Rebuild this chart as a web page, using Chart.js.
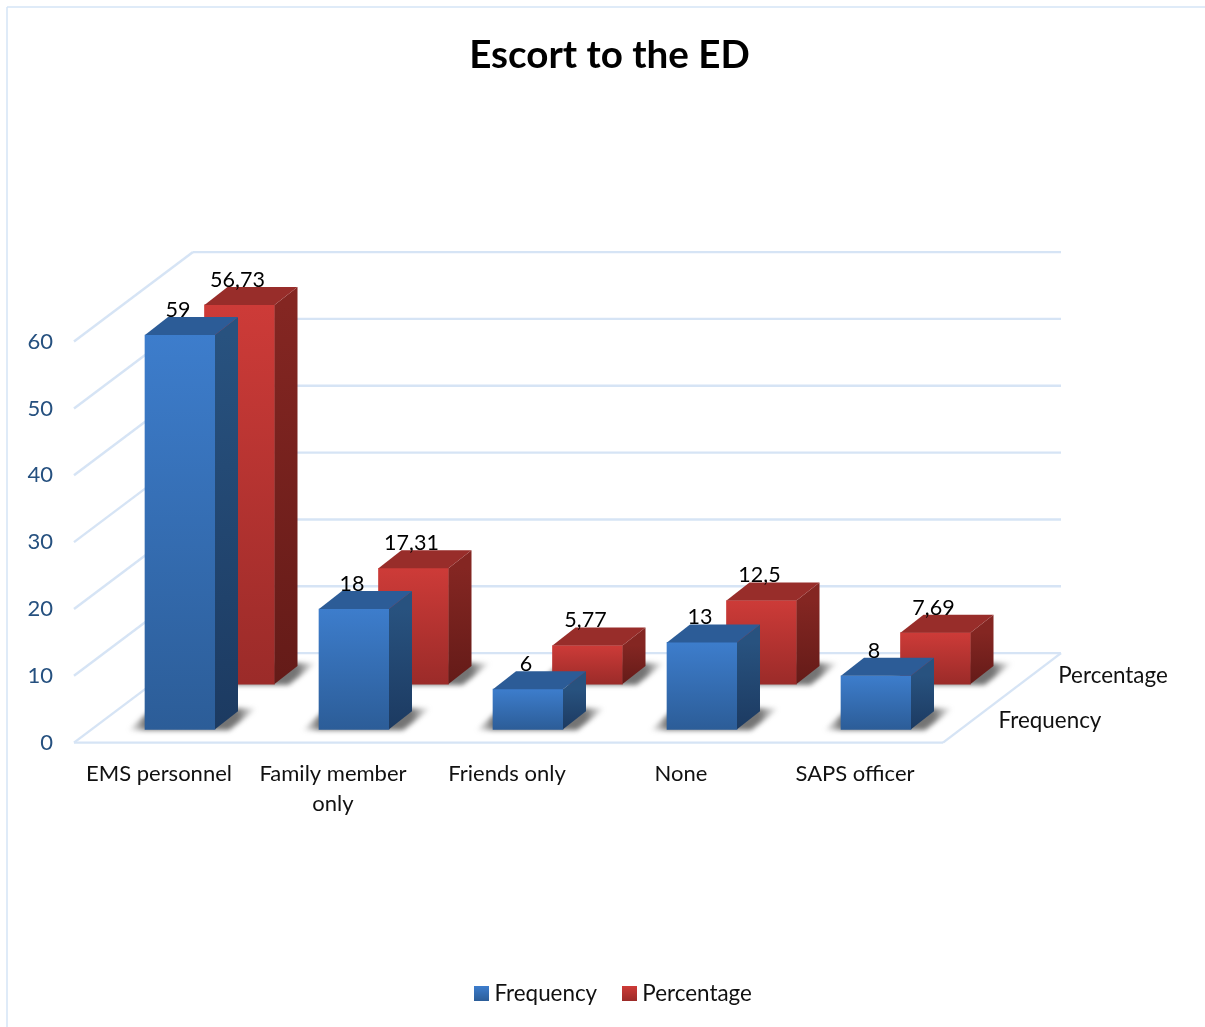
<!DOCTYPE html>
<html>
<head>
<meta charset="utf-8">
<title>Escort to the ED</title>
<script src="https://cdn.jsdelivr.net/npm/chart.js@4"></script>
<style>
  html, body { margin: 0; padding: 0; background: #ffffff; overflow: hidden; }
  canvas { display: block; }
</style>
</head>
<body>
<canvas id="escortChart" width="1205" height="1027"></canvas>
<script>
const categories = [['EMS personnel'], ['Family member', 'only'], ['Friends only'], ['None'], ['SAPS officer']];
const frequency = [59, 18, 6, 13, 8];
const percentage = [56.73, 17.31, 5.77, 12.5, 7.69];
const frequencyText = ['59', '18', '6', '13', '8'];
const percentageText = ['56,73', '17,31', '5,77', '12,5', '7,69'];
const yTicks = [0, 10, 20, 30, 40, 50, 60];

const FONT = 'Lato';
const GRID = '#d6e4f5';
const DEPTH_X = 23, DEPTH_Y = 18;       // bar depth
const WALL_X = 119, WALL_Y = 89.5;      // floor depth
const UNITS_MAX = 73.4;

const blue = { light: '#3d7dcc', dark: '#2c5d98', top: '#2c5c97', sideA: '#28527f', sideB: '#1c3a61' };
const red = { light: '#cd3b38', dark: '#9b2b29', top: '#982d2a', sideA: '#842622', sideB: '#641b18' };

function frontFill(colors, axis) {
  return function (c) {
    if (c.type !== 'data' || !c.parsed) return colors.light;
    const s = c.chart.scales[axis];
    const g = c.chart.ctx.createLinearGradient(0, s.getPixelForValue(c.parsed.y), 0, s.getPixelForValue(0));
    g.addColorStop(0, colors.light);
    g.addColorStop(1, colors.dark);
    return g;
  };
}

function poly(ctx, pts, fill) {
  ctx.beginPath();
  pts.forEach(function (p, i) { i ? ctx.lineTo(p[0], p[1]) : ctx.moveTo(p[0], p[1]); });
  ctx.closePath();
  ctx.fillStyle = fill;
  ctx.fill();
}

function line(ctx, x0, y0, x1, y1) {
  ctx.beginPath();
  ctx.moveTo(x0, y0);
  ctx.lineTo(x1, y1);
  ctx.stroke();
}

// legend swatch, the gap to the text is smaller than Chart.js leaves for a box
function swatch(colors) {
  const c = document.createElement('canvas');
  c.width = 15;
  c.height = 15;
  const x = c.getContext('2d');
  const g = x.createLinearGradient(0, 0, 0, 15);
  g.addColorStop(0, colors.light);
  g.addColorStop(1, colors.dark);
  x.fillStyle = g;
  x.fillRect(0, 0, 15, 15);
  return c;
}

const scene = {
  id: 'scene',
  afterLayout(chart) {
    chart.legend.left += 6;
    chart.legend.right += 6;
    chart.legend.top -= 12;
    chart.legend.bottom -= 12;
  },
  beforeDraw(chart) {
    const ctx = chart.ctx;
    ctx.save();
    ctx.fillStyle = '#ffffff';
    ctx.fillRect(0, 0, chart.width, chart.height);
    // outer chart border, only top and left are inside the picture
    ctx.strokeStyle = '#d5e5f6';
    ctx.lineWidth = 1.5;
    line(ctx, 7, 1027, 7, 7);
    line(ctx, 7, 7, 1205, 7);
    ctx.restore();
  },
  beforeDatasetsDraw(chart) {
    const ctx = chart.ctx, y = chart.scales.y;
    const x0 = 74, x1 = 943, floor = y.getPixelForValue(0);
    ctx.save();
    ctx.strokeStyle = GRID;
    ctx.lineWidth = 2.4;
    yTicks.forEach(function (v) {
      const py = y.getPixelForValue(v);
      line(ctx, x0, py, x0 + WALL_X, py - WALL_Y);
      line(ctx, x0 + WALL_X, py - WALL_Y, x1 + WALL_X - 1, py - WALL_Y);
    });
    line(ctx, x0, floor, x1, floor);
    line(ctx, x1, floor, x1 + WALL_X - 1, floor - WALL_Y);
    ctx.restore();
  },
  beforeDatasetDraw(chart, args) {
    const ctx = chart.ctx;
    ctx.save();
    ctx.filter = 'blur(2.5px)';
    chart.getDatasetMeta(args.index).data.forEach(function (b) {
      const l = b.x - b.width / 2, r = b.x + b.width / 2;
      const g = ctx.createLinearGradient(l - 17, 0, r + DEPTH_X + 19, 0);
      const w = b.width + DEPTH_X + 36;
      g.addColorStop(0, 'rgba(110,110,110,0)');
      g.addColorStop(17 / w, 'rgba(70,70,70,0.75)');
      g.addColorStop((17 + b.width + DEPTH_X) / w, 'rgba(70,70,70,0.75)');
      g.addColorStop(1, 'rgba(110,110,110,0)');
      poly(ctx, [
        [l - 17, b.base + 1], [l + 8, b.base - DEPTH_Y - 3],
        [r + DEPTH_X + 19, b.base - DEPTH_Y - 3], [r + 14, b.base + 1]
      ], g);
    });
    ctx.restore();
  },
  afterDatasetDraw(chart, args) {
    const ctx = chart.ctx;
    const colors = args.index === 0 ? blue : red;
    ctx.save();
    chart.getDatasetMeta(args.index).data.forEach(function (b) {
      const r = b.x + b.width / 2, l = b.x - b.width / 2;
      const g = ctx.createLinearGradient(0, b.y, 0, b.base);
      g.addColorStop(0, colors.sideA);
      g.addColorStop(1, colors.sideB);
      poly(ctx, [[r, b.y], [r + DEPTH_X, b.y - DEPTH_Y], [r + DEPTH_X, b.base - DEPTH_Y], [r, b.base]], g);
      poly(ctx, [[l, b.y], [l + DEPTH_X, b.y - DEPTH_Y], [r + DEPTH_X, b.y - DEPTH_Y], [r, b.y]], colors.top);
    });
    ctx.restore();
  },
  afterDatasetsDraw(chart) {
    const ctx = chart.ctx;
    ctx.save();
    ctx.font = '21.5px ' + FONT;
    ctx.fillStyle = '#000000';
    ctx.textAlign = 'center';
    ctx.textBaseline = 'middle';
    [percentageText, frequencyText].forEach(function (texts, k) {
      chart.getDatasetMeta(1 - k).data.forEach(function (b, i) {
        ctx.fillText(texts[i], b.x - 2, b.y - 25);
      });
    });
    // labels of the depth axis
    ctx.font = '22.4px ' + FONT;
    ctx.fillStyle = '#111111';
    ctx.fillText(chart.data.datasets[0].label, 1050, 721);
    ctx.fillText(chart.data.datasets[1].label, 1113, 676);
    ctx.restore();
  }
};

const ctx = document.getElementById('escortChart').getContext('2d');
const escortChart = new Chart(ctx, {
  type: 'bar',
  data: {
    labels: categories,
    datasets: [{
      label: 'Frequency',
      data: frequency.map(function (v, i) { return { x: i, y: v }; }),
      xAxisID: 'xFreq',
      yAxisID: 'yFreq',
      backgroundColor: frontFill(blue, 'yFreq'),
      barThickness: 70,
      grouped: false,
      clip: false
    }, {
      label: 'Percentage',
      data: percentage.map(function (v, i) { return { x: i, y: v }; }),
      xAxisID: 'xPerc',
      yAxisID: 'yPerc',
      backgroundColor: frontFill(red, 'yPerc'),
      barThickness: 70,
      grouped: false,
      clip: false
    }]
  },
  options: {
    responsive: false,
    animation: false,
    layout: { padding: { left: 14 } },
    plugins: {
      title: {
        display: true,
        text: 'Escort to the ED',
        color: '#000000',
        font: { family: FONT, size: 38.6, weight: 'bold', lineHeight: 1.2 },
        padding: { top: 32, bottom: 173.7 }
      },
      legend: {
        position: 'bottom',
        labels: {
          color: '#111111',
          font: { family: FONT, size: 22.4 },
          usePointStyle: true,
          pointStyleWidth: 4,
          boxHeight: 15,
          padding: 30,
          generateLabels(chart) {
            return chart.data.datasets.map(function (d, i) {
              return {
                text: d.label,
                pointStyle: swatch(i === 0 ? blue : red),
                fontColor: '#111111',
                datasetIndex: i
              };
            });
          }
        }
      },
      tooltip: { enabled: false }
    },
    scales: {
      x: {
        grid: { display: false, drawTicks: false },
        border: { display: false },
        ticks: {
          color: '#111111',
          font: { family: FONT, size: 22, lineHeight: 1.36 },
          maxRotation: 0,
          autoSkip: false,
          padding: 16
        },
        afterFit(s) { s.height = 222; }
      },
      xFreq: { type: 'linear', axis: 'x', display: false, offset: false, min: -0.5 - 21 / 174, max: 4.5 - 21 / 174 },
      xPerc: { type: 'linear', axis: 'x', display: false, offset: false, min: -0.5 - 80.5 / 174, max: 4.5 - 80.5 / 174 },
      y: {
        min: 0,
        max: UNITS_MAX,
        afterBuildTicks(s) { s.ticks = yTicks.map(function (v) { return { value: v }; }); },
        grid: { display: false, drawTicks: false },
        border: { display: false },
        ticks: { color: '#25507f', font: { family: FONT, size: 22 }, padding: 19 },
        afterFit(s) { s.width = 58; }
      },
      yFreq: {
        position: 'right',
        min: -1.99,
        max: UNITS_MAX - 1.99,
        grid: { display: false, drawTicks: false },
        border: { display: false },
        ticks: { display: false },
        afterFit(s) { s.width = 263; }
      },
      yPerc: { display: false, min: -8.76, max: UNITS_MAX - 8.76 }
    }
  },
  plugins: [scene]
});
</script>
</body>
</html>
